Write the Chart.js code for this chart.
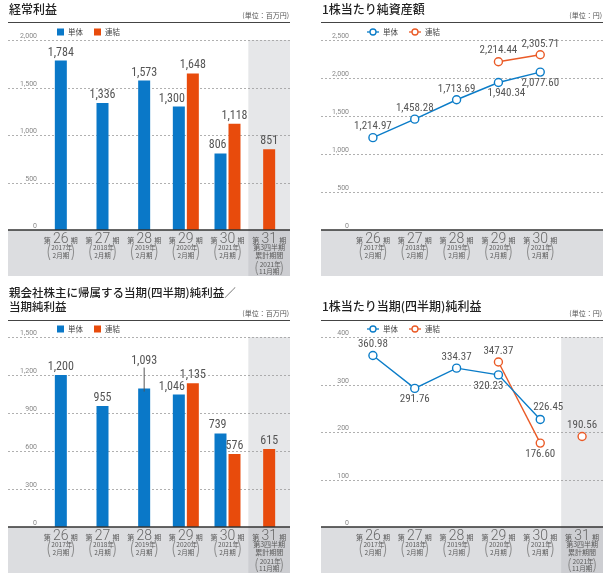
<!DOCTYPE html>
<html><head><meta charset="utf-8">
<script src="https://cdn.jsdelivr.net/npm/chart.js@4.4.1/dist/chart.umd.min.js"></script>
<style>
html,body{margin:0;padding:0;background:#fff;}
body{position:relative;width:613px;height:578px;overflow:hidden}
canvas{position:absolute;display:block}
</style></head><body>
<canvas id="c1" width="300" height="280" style="left:0;top:0;width:300px;height:280px"></canvas>
<canvas id="c2" width="313" height="280" style="left:300px;top:0;width:313px;height:280px"></canvas>
<canvas id="c3" width="300" height="298" style="left:0;top:280px;width:300px;height:298px"></canvas>
<canvas id="c4" width="313" height="298" style="left:300px;top:280px;width:313px;height:298px"></canvas>
<script>
// ---- data ----
const periods = ['26','27','28','29','30','31'];
const years = ['2017年','2018年','2019年','2020年','2021年','2021年'];
const months = ['2月期','2月期','2月期','2月期','2月期','11月期'];
const quarterNotes = [null,null,null,null,null,['第3四半期','累計期間']];
const seriesNames = ['単体','連結'];

const ordinarySingle = [1784,1336,1573,1300,806,null];
const ordinaryConsol = [null,null,null,1648,1118,851];
const bpsSingle = [1214.97,1458.28,1713.69,1940.34,2077.60,null];
const bpsConsol = [null,null,null,2214.44,2305.71,null];
const netSingle = [1200,955,1093,1046,739,null];
const netConsol = [null,null,null,1135,576,615];
const epsSingle = [360.98,291.76,334.37,320.23,226.45,null];
const epsConsol = [null,null,null,347.37,176.60,190.56];

const ordinaryTicks = [0,500,1000,1500,2000];
const bpsTicks = [0,500,1000,1500,2000,2500];
const netTicks = [0,300,600,900,1200,1500];
const epsTicks = [0,100,200,300,400];

// label placement (not data)
const bpsSingleSide = ['up','up','up','downRight','down',null];
const bpsConsolSide = [null,null,null,'up','up',null];
const epsSingleSide = ['up','down','up','downLeft','upRight',null];
const epsConsolSide = [null,null,null,'up','down','up'];
const netSingleLift = [0,0,20,0,0,0];

// ---- style ----
const BLUE = '#0a78c8', RED = '#e84b0c', ORANGE = '#ea5a26', LBLUE = '#0a7cc8';
const JP = '"Noto Sans CJK JP","Noto Sans",sans-serif';
const NUM = '"Liberation Sans Narrow","Roboto Condensed",Roboto,sans-serif';
const sideOff = {up:[0,-11],down:[0,11],downLeft:[-10,11],upRight:[8,-12],downRight:[8,11]};

function line(ctx,x0,y0,x1,y1){ctx.beginPath();ctx.moveTo(x0,y0);ctx.lineTo(x1,y1);ctx.stroke();}
function paren(ctx,c,y0,y1,w){
  const m=(y0+y1)/2;
  ctx.beginPath();ctx.moveTo(c-w+1.5,y0);ctx.quadraticCurveTo(c-w-2,m,c-w+1.5,y1);ctx.stroke();
  ctx.beginPath();ctx.moveTo(c+w-1.5,y0);ctx.quadraticCurveTo(c+w+2,m,c+w-1.5,y1);ctx.stroke();
}

const deco = {
  id:'deco',
  beforeDatasetsDraw(chart,args,o){
    const ctx=chart.ctx, ca=chart.chartArea, xs=chart.scales.x, ys=chart.scales.y;
    const cw=xs.getPixelForValue(1)-xs.getPixelForValue(0);
    const L=o.left, B=ca.bottom;
    ctx.save();
    // title
    ctx.fillStyle='#222'; ctx.textAlign='left'; ctx.textBaseline='middle';
    ctx.font='500 '+(o.titleSize||12)+'px '+JP;
    o.title.forEach((t,i)=>ctx.fillText(t,L+1,o.titleY+i*14));
    // unit
    ctx.font='7px '+JP; ctx.fillStyle='#555'; ctx.textAlign='right';
    ctx.fillText(o.unit,ca.right-1,o.unitY);
    // header rule
    ctx.strokeStyle='#444'; ctx.lineWidth=1.2; line(ctx,L,o.headY,ca.right,o.headY);
    // legend
    const ly=o.legendY;
    ctx.textAlign='left'; ctx.font='7.5px '+JP; ctx.fillStyle='#444';
    const cols=[o.kind==='bar'?BLUE:LBLUE, o.kind==='bar'?RED:ORANGE];
    o.legendX.forEach((lx,k)=>{
      if(o.kind==='bar'){
        ctx.fillStyle=cols[k]; ctx.fillRect(lx,ly-3.5,7,7);
        ctx.fillStyle='#444'; ctx.fillText(seriesNames[k],lx+11,ly);
      } else {
        ctx.strokeStyle=cols[k]; ctx.lineWidth=1.3;
        line(ctx,lx,ly,lx+12,ly);
        ctx.beginPath(); ctx.arc(lx+6,ly,3,0,Math.PI*2); ctx.fillStyle='#fff'; ctx.fill(); ctx.stroke();
        ctx.fillStyle='#444'; ctx.fillText(seriesNames[k],lx+16,ly);
      }
    });
    // shaded last period
    let x0=null;
    if(o.shade){ x0=xs.getPixelForValue(5)-cw/2; ctx.fillStyle='#e6e7e9'; ctx.fillRect(x0,ca.top,ca.right-x0,B-ca.top); }
    // category band
    ctx.fillStyle='#dcdde0'; ctx.fillRect(L,B,ca.right-L,46);
    if(o.shade){ ctx.fillStyle='#cdced2'; ctx.fillRect(x0,B,ca.right-x0,46); }
    // grid
    ctx.setLineDash([2,2]); ctx.strokeStyle='#9c9c9c'; ctx.lineWidth=0.8;
    o.ticks.forEach(v=>{ if(v===0) return; const y=Math.round(ys.getPixelForValue(v))+0.5; line(ctx,L,y,ca.right,y); });
    ctx.setLineDash([]);
    // tick labels
    ctx.font='7px Roboto,sans-serif'; ctx.fillStyle='#888'; ctx.textAlign='right'; ctx.textBaseline='alphabetic';
    o.ticks.forEach(v=>ctx.fillText(v.toLocaleString('en-US'),o.tickX,ys.getPixelForValue(v)-2));
    // category labels
    ctx.fillStyle='#5a5a5a'; ctx.strokeStyle='#777'; ctx.lineWidth=0.8; ctx.textAlign='center'; ctx.textBaseline='middle';
    for(let i=0;i<o.nLabels;i++){
      const c=xs.getPixelForValue(i);
      ctx.fillStyle='#666';
      ctx.font='300 14px Roboto,sans-serif'; ctx.fillText(periods[i],c,B+9.5);
      ctx.fillStyle='#5a5a5a';
      ctx.font='7px '+JP; ctx.fillText('第',c-13.5,B+10); ctx.fillText('期',c+13.5,B+10);
      if(quarterNotes[i]){
        ctx.font='7px '+JP;
        ctx.fillText(quarterNotes[i][0],c,B+17.5); ctx.fillText(quarterNotes[i][1],c,B+25);
        ctx.font='6.5px '+JP; ctx.fillText(years[i],c+1,B+35); ctx.fillText(months[i],c,B+41.5);
        paren(ctx,c,B+31,B+45,13);
      } else {
        ctx.font='6.5px '+JP; ctx.fillText(years[i],c+1,B+18); ctx.fillText(months[i],c,B+26);
        paren(ctx,c,B+14,B+30,12.5);
      }
    }
    ctx.restore();
  },
  afterDatasetsDraw(chart,args,o){
    const ctx=chart.ctx, ca=chart.chartArea;
    ctx.save();
    ctx.strokeStyle='#333'; ctx.lineWidth=1.5; line(ctx,o.left,ca.bottom,ca.right,ca.bottom);
    ctx.fillStyle='#555'; ctx.textBaseline='middle'; ctx.textAlign='center';
    chart.data.datasets.forEach((ds,di)=>{
      const meta=chart.getDatasetMeta(di);
      meta.data.forEach((el,i)=>{
        const v=ds.data[i]; if(v==null) return;
        if(o.kind==='bar'){
          ctx.font='12px '+NUM;
          const txt=v.toLocaleString('en-US');
          const w=ctx.measureText(txt).width;
          const other=chart.data.datasets[1-di].data[i];
          let x=el.x;
          if(di===0 && other!=null) x=Math.min(x, el.x+el.width/2-w/2);
          const lift=(ds.lift&&ds.lift[i])||0;
          const y=el.y-8-lift;
          ctx.fillText(txt,x,y);
          if(lift){ ctx.strokeStyle='#555'; ctx.lineWidth=1; line(ctx,el.x,y+7,el.x,el.y+3); }
        } else {
          ctx.font='11px '+NUM;
          const txt=v.toLocaleString('en-US',{minimumFractionDigits:2,maximumFractionDigits:2});
          const off=sideOff[ds.side[i]]||[0,-11];
          ctx.fillText(txt,el.x+off[0],el.y+off[1]);
        }
      });
    });
    ctx.restore();
  }
};
Chart.register(deco);

function baseOpts(pad,ticks,d){
  return {
    responsive:false, animation:false, devicePixelRatio:1,
    layout:{autoPadding:false,padding:pad},
    plugins:{legend:{display:false},tooltip:{enabled:false},deco:d},
    scales:{x:{display:false,offset:true},y:{display:false,min:0,max:ticks[ticks.length-1]}}
  };
}
function barSet(label,data,color,extra){
  return Object.assign({label,data,backgroundColor:color,skipNull:true,categoryPercentage:0.672,barPercentage:0.857,maxBarThickness:12},extra||{});
}
function lineSet(label,data,color,side,extra){
  return Object.assign({label,data,side,borderColor:color,backgroundColor:'#fff',borderWidth:1.4,
    pointRadius:4,pointBorderWidth:1.4,pointBackgroundColor:'#fff',pointBorderColor:color,spanGaps:false,clip:false},extra||{});
}

new Chart(document.getElementById('c1'),{
  type:'bar',
  data:{labels:periods,datasets:[barSet('単体',ordinarySingle,BLUE),barSet('連結',ordinaryConsol,RED)]},
  options:baseOpts({left:40,right:10,top:40,bottom:50},ordinaryTicks,
    {kind:'bar',title:['経常利益'],unit:'(単位：百万円)',left:8,titleY:9.5,unitY:15.5,headY:22.5,legendY:32,legendX:[57,94],
     ticks:ordinaryTicks,tickX:37,shade:true,nLabels:6})
});
new Chart(document.getElementById('c2'),{
  type:'line',
  data:{labels:periods,datasets:[lineSet('単体',bpsSingle,LBLUE,bpsSingleSide),lineSet('連結',bpsConsol,ORANGE,bpsConsolSide)]},
  options:baseOpts({left:52,right:10,top:40,bottom:50},bpsTicks,
    {kind:'line',title:['1株当たり純資産額'],unit:'(単位：円)',left:21,titleY:9.5,unitY:15.5,headY:22.5,legendY:32,legendX:[67,109],
     ticks:bpsTicks,tickX:49,shade:false,nLabels:5})
});
new Chart(document.getElementById('c3'),{
  type:'bar',
  data:{labels:periods,datasets:[barSet('単体',netSingle,BLUE,{lift:netSingleLift}),barSet('連結',netConsol,RED)]},
  options:baseOpts({left:40,right:10,top:57,bottom:51},netTicks,
    {kind:'bar',title:['親会社株主に帰属する当期(四半期)純利益／','当期純利益'],titleSize:11.5,unit:'(単位：百万円)',left:8,titleY:13,unitY:33,headY:40.5,legendY:49,legendX:[57,94],
     ticks:netTicks,tickX:37,shade:true,nLabels:6})
});
new Chart(document.getElementById('c4'),{
  type:'line',
  data:{labels:periods,datasets:[lineSet('単体',epsSingle,LBLUE,epsSingleSide),
    lineSet('連結',epsConsol,ORANGE,epsConsolSide,{segment:{borderColor:c=>c.p0DataIndex===4?'rgba(0,0,0,0)':undefined}})]},
  options:baseOpts({left:52,right:10,top:57,bottom:51},epsTicks,
    {kind:'line',title:['1株当たり当期(四半期)純利益'],unit:'(単位：円)',left:21,titleY:26.5,unitY:33,headY:40.5,legendY:49,legendX:[67,109],
     ticks:epsTicks,tickX:49,shade:true,nLabels:6})
});
</script>
</body></html>
